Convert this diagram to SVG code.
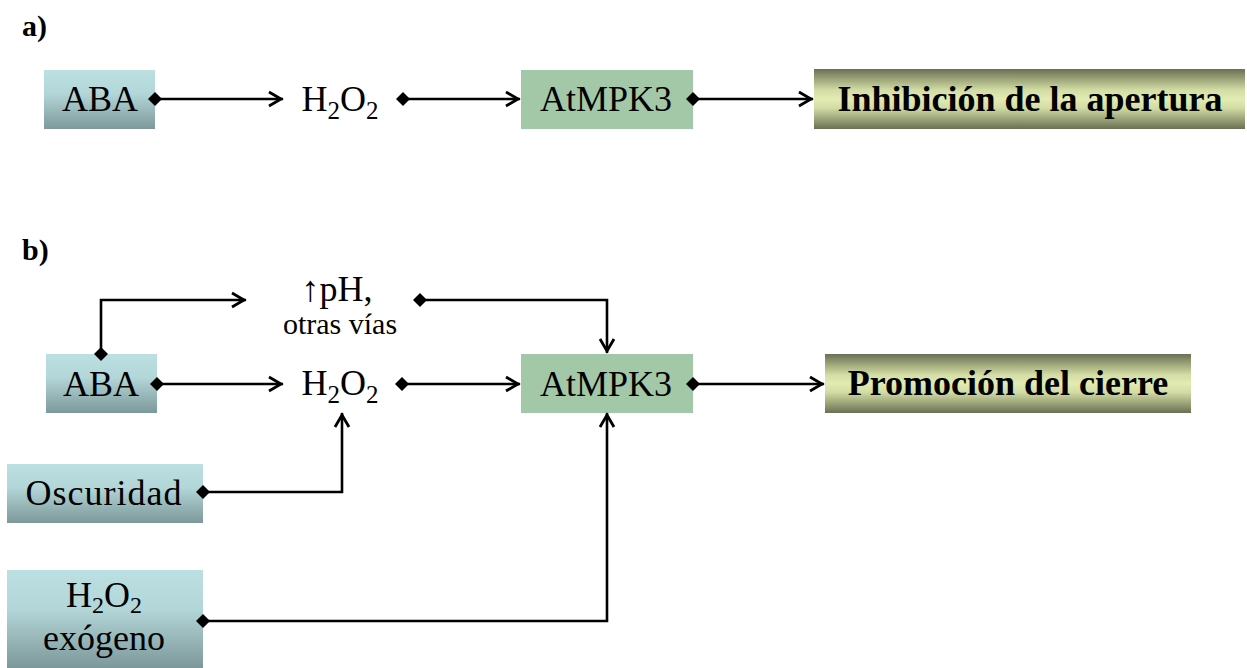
<svg xmlns="http://www.w3.org/2000/svg" width="1247" height="668" viewBox="0 0 1247 668">
<style>
text{font-family:"Liberation Serif","Times New Roman",serif;fill:#000}
.t{font-size:36px;text-anchor:middle}
.s{font-size:30px;text-anchor:middle}
.b{font-size:36px;font-weight:bold;text-anchor:middle}
.lab{font-size:30px;font-weight:bold}
.blue{fill:url(#gBlue)}
.green{fill:#a3c8a8}
.olive{fill:url(#gOlive)}
.c{fill:none;stroke:#000;stroke-width:2.6;marker-start:url(#dia);marker-end:url(#arr)}
</style>
<defs>
<linearGradient id="gBlue" x1="0" y1="0" x2="0" y2="1">
<stop offset="0" stop-color="#bce0e2"/>
<stop offset="0.4" stop-color="#b3d6d8"/>
<stop offset="1" stop-color="#7c989a"/>
</linearGradient>
<linearGradient id="gOlive" x1="0" y1="0" x2="0" y2="1">
<stop offset="0" stop-color="#6a7052"/>
<stop offset="0.35" stop-color="#d2dca4"/>
<stop offset="0.5" stop-color="#e1ebb2"/>
<stop offset="0.65" stop-color="#d2dca4"/>
<stop offset="1" stop-color="#6a7052"/>
</linearGradient>
<marker id="arr" markerUnits="userSpaceOnUse" markerWidth="20" markerHeight="20" viewBox="-16 -10 20 20" refX="0" refY="0" orient="auto" overflow="visible">
<path d="M-14,-7 L-2,0 L-14,7" fill="none" stroke="#000" stroke-width="2.8"/>
</marker>
<marker id="dia" markerUnits="userSpaceOnUse" markerWidth="16" markerHeight="16" viewBox="-8 -8 16 16" refX="0" refY="0" orient="auto" overflow="visible">
<path d="M-7,0 L0,-7 L7,0 L0,7 Z" fill="#000"/>
</marker>
</defs>

<text class="lab" x="22" y="36">a)</text>
<text class="lab" x="22" y="260">b)</text>

<g id="a-aba">
<rect class="blue" x="44" y="70" width="111" height="59"/>
<text class="t" x="100" y="111">ABA</text>
</g>
<g id="a-h2o2">
<text class="t" x="340" y="111">H<tspan font-size="25" dy="8">2</tspan><tspan dy="-8">O</tspan><tspan font-size="25" dy="8">2</tspan></text>
</g>
<g id="a-atmpk3">
<rect class="green" x="521" y="70" width="172" height="59"/>
<text class="t" x="606" y="111">AtMPK3</text>
</g>
<g id="a-inhibicion">
<rect class="olive" x="814" y="69" width="431" height="60"/>
<text class="b" x="1030" y="111">Inhibición de la apertura</text>
</g>

<g id="b-ph">
<text class="t" x="337" y="301">↑pH,</text>
<text class="s" x="340" y="334">otras vías</text>
</g>
<g id="b-aba">
<rect class="blue" x="46" y="354" width="111" height="59"/>
<text class="t" x="101" y="396">ABA</text>
</g>
<g id="b-h2o2">
<text class="t" x="340" y="395">H<tspan font-size="25" dy="8">2</tspan><tspan dy="-8">O</tspan><tspan font-size="25" dy="8">2</tspan></text>
</g>
<g id="b-atmpk3">
<rect class="green" x="521" y="354" width="172" height="59"/>
<text class="t" x="606" y="396">AtMPK3</text>
</g>
<g id="b-promocion">
<rect class="olive" x="825" y="354" width="366" height="59"/>
<text class="b" x="1008" y="395">Promoción del cierre</text>
</g>
<g id="b-oscuridad">
<rect class="blue" x="7" y="464" width="196" height="59"/>
<text class="t" x="104" y="505" letter-spacing="1">Oscuridad</text>
</g>
<g id="b-exogeno">
<rect class="blue" x="7" y="570" width="196" height="98"/>
<text class="t" x="104" y="607">H<tspan font-size="24" dy="6">2</tspan><tspan dy="-6">O</tspan><tspan font-size="24" dy="6">2</tspan></text>
<text class="t" x="104" y="650">exógeno</text>
</g>

<g id="connectors">
<path class="c" d="M155,99 H283"/>
<path class="c" d="M403,99 H520"/>
<path class="c" d="M693,99 H813"/>
<path class="c" d="M157,384 H283"/>
<path class="c" d="M402,384 H520"/>
<path class="c" d="M693,384 H824"/>
<path class="c" d="M101,354 V300 H246"/>
<path class="c" d="M420,300 H607 V353"/>
<path class="c" d="M203,492 H342 V413"/>
<path class="c" d="M203,621 H607 V413"/>
</g>
</svg>
